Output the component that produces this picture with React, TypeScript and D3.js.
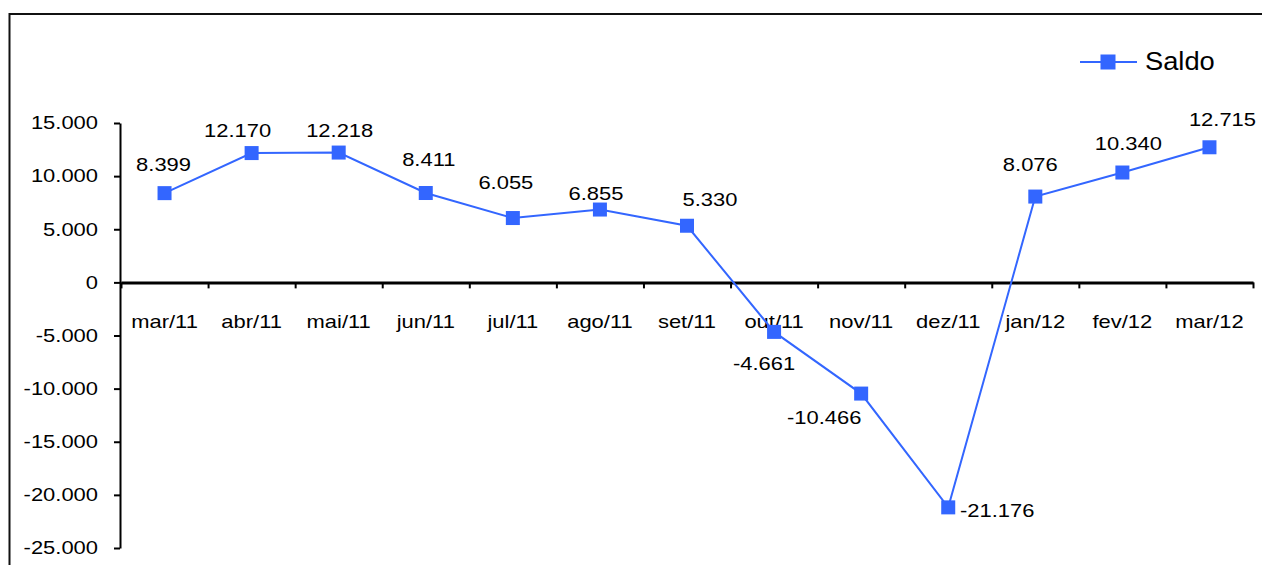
import React, { useEffect, useRef } from 'react';
import * as d3 from 'd3';

// months and balance (saldo) values
const months = ['mar/11', 'abr/11', 'mai/11', 'jun/11', 'jul/11', 'ago/11', 'set/11', 'out/11', 'nov/11', 'dez/11', 'jan/12', 'fev/12', 'mar/12'];
const saldo = [8399, 12170, 12218, 8411, 6055, 6855, 5330, -4661, -10466, -21176, 8076, 10340, 12715];
const yTicks = [15000, 10000, 5000, 0, -5000, -10000, -15000, -20000, -25000];
const seriesName = 'Saldo';

// hand-placed label offsets (dx, dy to baseline), as in the original sheet
const labelOffsets: [number, number][] = [
  [-1, -22], [-14, -16], [1, -16], [3, -27], [-7, -29], [-4, -10], [23, -20],
  [-10, 38], [-37, 30], [49, 10], [-5, -26], [6, -23], [13, -21],
];

const W = 1262;
const H = 565;
const BLUE = '#3366FF';
const FONT = '"Liberation Sans", Arial, sans-serif';
const SX = 1.22; // text in the source is stretched horizontally

const ptBR = d3.formatLocale({ decimal: ',', thousands: '.', grouping: [3], currency: ['R$', ''], minus: '-' });
const fmt = ptBR.format(',d');

export default function App() {
  const svgRef = useRef<SVGSVGElement>(null);

  useEffect(() => {
    if (!svgRef.current) return;
    const svg = d3.select(svgRef.current);
    svg.selectAll('*').remove();

    const y = d3.scaleLinear().domain([-25000, 15000]).range([548, 123]);
    const x = d3.scaleBand<string>().domain(months).range([121, 1253]).paddingInner(0).paddingOuter(0);
    const xi = d3.scaleLinear().domain([0, months.length]).range([121, 1253]);
    const cx = (m: string) => (x(m) as number) + x.bandwidth() / 2;

    // chart frame (only top and left edges fall inside the picture)
    svg.append('path')
      .attr('d', `M9.5,${H} V14 H${W}`)
      .attr('fill', 'none')
      .attr('stroke', '#111')
      .attr('stroke-width', 2);

    // y axis
    const yAxis = svg.append('g')
      .attr('transform', 'translate(120,0)')
      .call(d3.axisLeft(y).tickValues(yTicks).tickFormat((d) => fmt(d as number)).tickSize(6).tickSizeOuter(0));
    yAxis.select('.domain').attr('stroke', '#000').attr('stroke-width', 2);
    yAxis.selectAll('.tick line').attr('stroke', '#000').attr('stroke-width', 2);
    yAxis.selectAll('.tick text')
      .attr('x', -22 / SX)
      .attr('transform', `scale(${SX},1)`)
      .attr('fill', '#000')
      .style('font-family', FONT)
      .style('font-size', '18px');

    // x axis at zero with ticks on category boundaries
    const xAxis = svg.append('g')
      .attr('transform', `translate(0,${y(0)})`)
      .call(d3.axisBottom(xi).tickValues(d3.range(0, months.length + 1)).tickFormat(() => '').tickSize(6).tickSizeOuter(0));
    xAxis.select('.domain').attr('stroke', '#000').attr('stroke-width', 3);
    xAxis.selectAll('.tick line').attr('stroke', '#000').attr('stroke-width', 2);

    // category labels
    svg.append('g')
      .selectAll('text')
      .data(months)
      .join('text')
      .attr('transform', (d) => `translate(${cx(d)},328) scale(${SX},1)`)
      .attr('text-anchor', 'middle')
      .style('font-family', FONT)
      .style('font-size', '18px')
      .attr('fill', '#000')
      .text((d) => d);

    // series line
    const line = d3.line<number>()
      .x((_, i) => cx(months[i]))
      .y((d) => y(d));
    svg.append('path')
      .datum(saldo)
      .attr('d', line)
      .attr('fill', 'none')
      .attr('stroke', BLUE)
      .attr('stroke-width', 2);

    const ms = 14;
    svg.append('g')
      .selectAll('rect')
      .data(saldo)
      .join('rect')
      .attr('x', (_, i) => cx(months[i]) - ms / 2)
      .attr('y', (d) => y(d) - ms / 2)
      .attr('width', ms)
      .attr('height', ms)
      .attr('fill', BLUE);

    // data labels
    svg.append('g')
      .selectAll('text')
      .data(saldo)
      .join('text')
      .attr('transform', (d, i) => `translate(${cx(months[i]) + labelOffsets[i][0]},${y(d) + labelOffsets[i][1]}) scale(${SX},1)`)
      .attr('text-anchor', 'middle')
      .style('font-family', FONT)
      .style('font-size', '18px')
      .attr('fill', '#000')
      .text((d) => fmt(d));

    // legend
    const lg = svg.append('g').attr('transform', 'translate(1080,62)');
    lg.append('line').attr('x1', 0).attr('x2', 57).attr('stroke', BLUE).attr('stroke-width', 2);
    lg.append('rect').attr('x', 28 - 7.5).attr('y', -7.5).attr('width', 15).attr('height', 15).attr('fill', BLUE);
    lg.append('text')
      .attr('transform', 'translate(65,7.5) scale(1.05,1)')
      .style('font-family', FONT)
      .style('font-size', '26px')
      .attr('fill', '#000')
      .text(seriesName);
  }, []);

  return (
    <svg
      ref={svgRef}
      width={W}
      height={H}
      style={{ position: 'fixed', left: 0, top: 0, background: '#fff' }}
    />
  );
}
